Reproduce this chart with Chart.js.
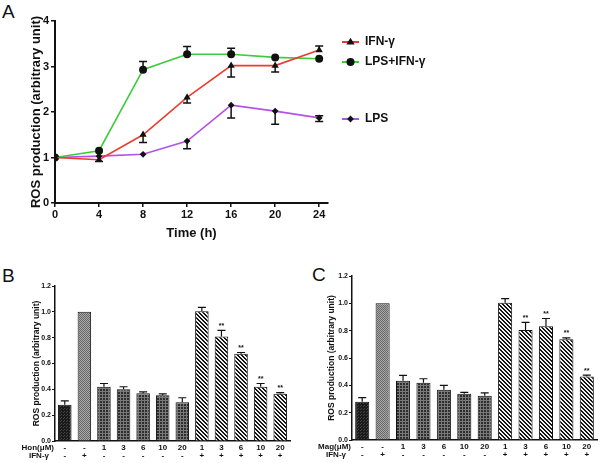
<!DOCTYPE html>
<html lang="en">
<head>
  <meta charset="UTF-8" />
  <title>ROS production</title>
  <script src="https://cdn.jsdelivr.net/npm/chart.js"></script>
  <style>
    body {
      margin: 0;
      width: 600px;
      height: 463px;
      background: #fff;
      font-family: "Liberation Sans", Arial, sans-serif;
      position: relative;
      overflow: hidden;
    }
    .panel { position: absolute; }
    .letter {
      position: absolute;
      font-size: 19px;
      color: #111;
      line-height: 1;
    }
  </style>
</head>
<body>
  <div class="letter" style="left:2px;top:2px">A</div>
  <div class="letter" style="left:2px;top:266px">B</div>
  <div class="letter" style="left:312px;top:265px">C</div>

  <div class="panel" style="left:0;top:0;width:600px;height:245px"><canvas id="chartA"></canvas></div>
  <div class="panel" style="left:0;top:262px;width:300px;height:201px"><canvas id="chartB"></canvas></div>
  <div class="panel" style="left:300px;top:262px;width:300px;height:201px"><canvas id="chartC"></canvas></div>

  <script>
    // panel A : time course
    const hours = [0, 4, 8, 12, 16, 20, 24];
    const ifnValues = [1.0, 0.95, 1.5, 2.32, 3.02, 3.02, 3.36];
    const ifnErrUp = [0, 0, 0, 0, 0, 0, 0.09];
    const ifnErrDown = [0, 0.04, 0.17, 0.12, 0.25, 0.14, 0];
    const lpsIfnValues = [1.0, 1.15, 2.93, 3.27, 3.27, 3.2, 3.17];
    const lpsIfnErrUp = [0, 0, 0.18, 0.17, 0.13, 0, 0];
    const lpsIfnErrDown = [0, 0, 0, 0, 0, 0, 0];
    const lpsValues = [1.0, 1.03, 1.07, 1.36, 2.15, 2.02, 1.87];
    const lpsErrUp = [0, 0, 0, 0, 0, 0, 0.05];
    const lpsErrDown = [0, 0, 0, 0.17, 0.28, 0.29, 0.08];

    // panels B and C : bar groups
    const doseLabels = ['-', '-', '1', '3', '6', '10', '20', '1', '3', '6', '10', '20'];
    const ifnRow = ['-', '+', '-', '-', '-', '-', '-', '+', '+', '+', '+', '+'];
    const barKinds = ['black', 'dots', 'grid', 'grid', 'grid', 'grid', 'grid', 'hatch', 'hatch', 'hatch', 'hatch', 'hatch'];
    const honValues = [0.28, 1.0, 0.42, 0.40, 0.37, 0.355, 0.30, 1.005, 0.81, 0.675, 0.42, 0.365];
    const honErr = [0.03, 0, 0.025, 0.02, 0.01, 0.01, 0.035, 0.03, 0.047, 0.01, 0.025, 0.01];
    const honSig = ['', '', '', '', '', '', '', '', '**', '**', '**', '**'];
    const magValues = [0.28, 1.0, 0.433, 0.418, 0.367, 0.338, 0.323, 1.005, 0.805, 0.833, 0.737, 0.465];
    const magErr = [0.03, 0, 0.04, 0.03, 0.033, 0.01, 0.022, 0.03, 0.056, 0.056, 0.01, 0.01];
    const magSig = ['', '', '', '', '', '', '', '', '**', '**', '**', '**'];

    const FONT = '"Liberation Sans", Arial, sans-serif';
    Chart.defaults.font.family = FONT;
    Chart.defaults.color = '#111';

    // ---------- panel A ----------
    function errorBarsA(chart) {
      const ctx = chart.ctx;
      const x = chart.scales.x, y = chart.scales.y;
      ctx.save();
      ctx.strokeStyle = '#111';
      ctx.lineWidth = 1.5;
      chart.data.datasets.forEach(ds => {
        ds.values.forEach((v, i) => {
          const px = x.getPixelForValue(hours[i]);
          const ends = [];
          if (ds.errUp[i]) ends.push(v + ds.errUp[i]);
          if (ds.errDown[i]) ends.push(v - ds.errDown[i]);
          ends.forEach(e => {
            const py = y.getPixelForValue(e);
            ctx.beginPath();
            ctx.moveTo(px, y.getPixelForValue(v));
            ctx.lineTo(px, py);
            ctx.moveTo(px - 4, py);
            ctx.lineTo(px + 4, py);
            ctx.stroke();
          });
        });
      });
      ctx.restore();
    }

    function legendA(chart) {
      const ctx = chart.ctx;
      const a = chart.chartArea;
      const rows = [21, 41, 98];
      ctx.save();
      chart.data.datasets.forEach((ds, k) => {
        const yy = a.top + rows[k];
        const x0 = a.right + 14;
        ctx.strokeStyle = ds.borderColor;
        ctx.lineWidth = 2;
        ctx.beginPath();
        ctx.moveTo(x0, yy);
        ctx.lineTo(x0 + 17, yy);
        ctx.stroke();
        ctx.fillStyle = '#111';
        const cx = x0 + 8.5, r = ds.pointRadius;
        ctx.beginPath();
        if (ds.pointStyle === 'triangle') {
          ctx.moveTo(cx, yy - r);
          ctx.lineTo(cx + r, yy + r * 0.6);
          ctx.lineTo(cx - r, yy + r * 0.6);
        } else if (ds.pointStyle === 'circle') {
          ctx.arc(cx, yy, r, 0, Math.PI * 2);
        } else {
          ctx.moveTo(cx, yy - r);
          ctx.lineTo(cx + r, yy);
          ctx.lineTo(cx, yy + r);
          ctx.lineTo(cx - r, yy);
        }
        ctx.fill();
        ctx.font = 'bold 12px ' + FONT;
        ctx.textBaseline = 'middle';
        ctx.textAlign = 'left';
        ctx.fillText(ds.label, x0 + 23, yy);
      });
      ctx.restore();
    }

    function lineSet(label, values, up, down, color, style, r) {
      return {
        label, values, errUp: up, errDown: down,
        data: values.map((v, i) => ({ x: hours[i], y: v })),
        borderColor: color, borderWidth: 1.6,
        pointStyle: style, pointRadius: r, pointHoverRadius: r,
        pointBackgroundColor: '#111', pointBorderColor: '#111', pointBorderWidth: 0,
        tension: 0, fill: false
      };
    }

    new Chart(document.getElementById('chartA'), {
      type: 'line',
      data: {
        datasets: [
          lineSet('IFN-γ', ifnValues, ifnErrUp, ifnErrDown, '#ea3c2e', 'triangle', 4.2),
          lineSet('LPS+IFN-γ', lpsIfnValues, lpsIfnErrUp, lpsIfnErrDown, '#3ccc3c', 'circle', 4),
          lineSet('LPS', lpsValues, lpsErrUp, lpsErrDown, '#b452e6', 'rectRot', 3.4)
        ]
      },
      options: {
        responsive: true,
        maintainAspectRatio: false,
        animation: false,
        layout: { padding: { left: 0, top: 21, right: 272, bottom: 0 } },
        plugins: { legend: { display: false }, tooltip: { enabled: false } },
        scales: {
          x: {
            type: 'linear', min: 0, max: 24.8,
            afterBuildTicks: s => { s.ticks = hours.map(h => ({ value: h })); },
            afterFit: s => { s.height = 42; },
            ticks: { font: { size: 11, weight: 'bold' }, padding: 1, maxRotation: 0 },
            grid: { drawOnChartArea: false, drawTicks: true, tickLength: 4, color: '#111', lineWidth: 1.5 },
            border: { color: '#111', width: 2 },
            title: { display: true, text: 'Time (h)', font: { size: 13, weight: 'bold' }, padding: { top: 0, bottom: 4 } }
          },
          y: {
            min: 0, max: 4,
            afterFit: s => { s.width = 55; },
            ticks: { stepSize: 1, font: { size: 11, weight: 'bold' }, padding: 2 },
            grid: { drawOnChartArea: false, drawTicks: true, tickLength: 4, color: '#111', lineWidth: 1.5 },
            border: { color: '#111', width: 2 },
            title: { display: true, text: 'ROS production (arbitrary unit)', font: { size: 13, weight: 'bold' }, padding: { top: 29, bottom: 0 } }
          }
        }
      },
      plugins: [{ id: 'extrasA', afterDatasetsDraw: errorBarsA, afterDraw: legendA }]
    });

    // ---------- panels B and C ----------
    function makePattern(kind) {
      const c = document.createElement('canvas');
      const g = c.getContext('2d');
      if (kind === 'black') {
        c.width = c.height = 3;
        g.fillStyle = '#1a1a1a'; g.fillRect(0, 0, 3, 3);
        g.fillStyle = '#444'; g.fillRect(0, 0, 1, 1); g.fillRect(1, 2, 1, 1);
      } else if (kind === 'dots') {
        c.width = c.height = 2;
        g.fillStyle = '#a8a8a8'; g.fillRect(0, 0, 2, 2);
        g.fillStyle = '#686868'; g.fillRect(0, 0, 1, 1); g.fillRect(1, 1, 1, 1);
      } else if (kind === 'grid') {
        c.width = c.height = 3;
        g.fillStyle = '#2e2e2e'; g.fillRect(0, 0, 3, 3);
        g.fillStyle = '#7a7a7a'; g.fillRect(0, 0, 3, 1); g.fillRect(0, 0, 1, 3);
      } else {
        c.width = c.height = 4;
        g.fillStyle = '#f2f2f2'; g.fillRect(0, 0, 4, 4);
        g.fillStyle = '#151515';
        for (let i = 0; i < 4; i++) { g.fillRect(i, i, 1, 1); g.fillRect((i + 1) % 4, i, 1, 1); }
      }
      return g.createPattern(c, 'repeat');
    }

    function barChart(id, values, errs, sig, rowTitle, area) {
      const TICK_PAD = 2, LINE_H = 8.8;
      const extras = {
        id: 'extras',
        afterDatasetsDraw(chart) {
          const ctx = chart.ctx;
          const y = chart.scales.y;
          const meta = chart.getDatasetMeta(0);
          ctx.save();
          ctx.strokeStyle = '#111';
          ctx.fillStyle = '#111';
          ctx.lineWidth = 1.2;
          ctx.font = 'bold 7px ' + FONT;
          ctx.textAlign = 'center';
          ctx.textBaseline = 'bottom';
          meta.data.forEach((bar, i) => {
            let top = y.getPixelForValue(values[i]);
            if (errs[i]) {
              top = y.getPixelForValue(values[i] + errs[i]);
              ctx.beginPath();
              ctx.moveTo(bar.x, y.getPixelForValue(values[i]));
              ctx.lineTo(bar.x, top);
              ctx.moveTo(bar.x - 4, top);
              ctx.lineTo(bar.x + 4, top);
              ctx.stroke();
            }
            if (sig[i]) ctx.fillText(sig[i], bar.x, top - 1);
          });
          ctx.restore();
        },
        afterDraw(chart) {
          const ctx = chart.ctx;
          const xs = chart.scales.x;
          const left = chart.chartArea.left;
          const row1 = xs.top + TICK_PAD + LINE_H / 2;
          ctx.save();
          ctx.fillStyle = '#111';
          ctx.font = 'bold 8px ' + FONT;
          ctx.textAlign = 'right';
          ctx.textBaseline = 'middle';
          ctx.fillText(rowTitle, left - 1, row1);
          ctx.fillText('IFN-γ', left - 6, row1 + LINE_H);
          ctx.restore();
        }
      };

      return new Chart(document.getElementById(id), {
        type: 'bar',
        data: {
          labels: doseLabels.map((d, i) => [d, ifnRow[i]]),
          datasets: [{
            data: values,
            backgroundColor: barKinds.map(makePattern),
            borderColor: '#111',
            borderWidth: 1,
            barPercentage: 0.69,
            categoryPercentage: 1
          }]
        },
        options: {
          responsive: true,
          maintainAspectRatio: false,
          animation: false,
          layout: { padding: { left: 0, top: area.top, right: area.right, bottom: 0 } },
          plugins: { legend: { display: false }, tooltip: { enabled: false } },
          scales: {
            x: {
              afterFit: s => { s.height = area.xh; },
              ticks: { font: { size: 8, weight: 'bold', lineHeight: 1.1 }, padding: TICK_PAD, maxRotation: 0, autoSkip: false },
              grid: { display: false, drawTicks: false },
              border: { color: '#111', width: 1.5 }
            },
            y: {
              min: 0, max: 1.2,
              afterFit: s => { s.width = area.yw; },
              ticks: { stepSize: 0.2, font: { size: 7, weight: 'bold' }, padding: 1, callback: v => v.toFixed(1) },
              grid: { drawOnChartArea: false, drawTicks: true, tickLength: 3, color: '#111', lineWidth: 1 },
              border: { color: '#111', width: 1.5 },
              title: { display: true, text: 'ROS production (arbitrary unit)', font: { size: 8.5, weight: 'bold' }, padding: { top: area.tp, bottom: 0 } }
            }
          }
        },
        plugins: [extras]
      });
    }

    barChart('chartB', honValues, honErr, honSig, 'Hon(μM)', { top: 24, right: 10, xh: 22, yw: 55, tp: 32 });
    barChart('chartC', magValues, magErr, magSig, 'Mag(μM)', { top: 14, right: 3, xh: 23, yw: 52, tp: 27 });
  </script>
</body>
</html>
